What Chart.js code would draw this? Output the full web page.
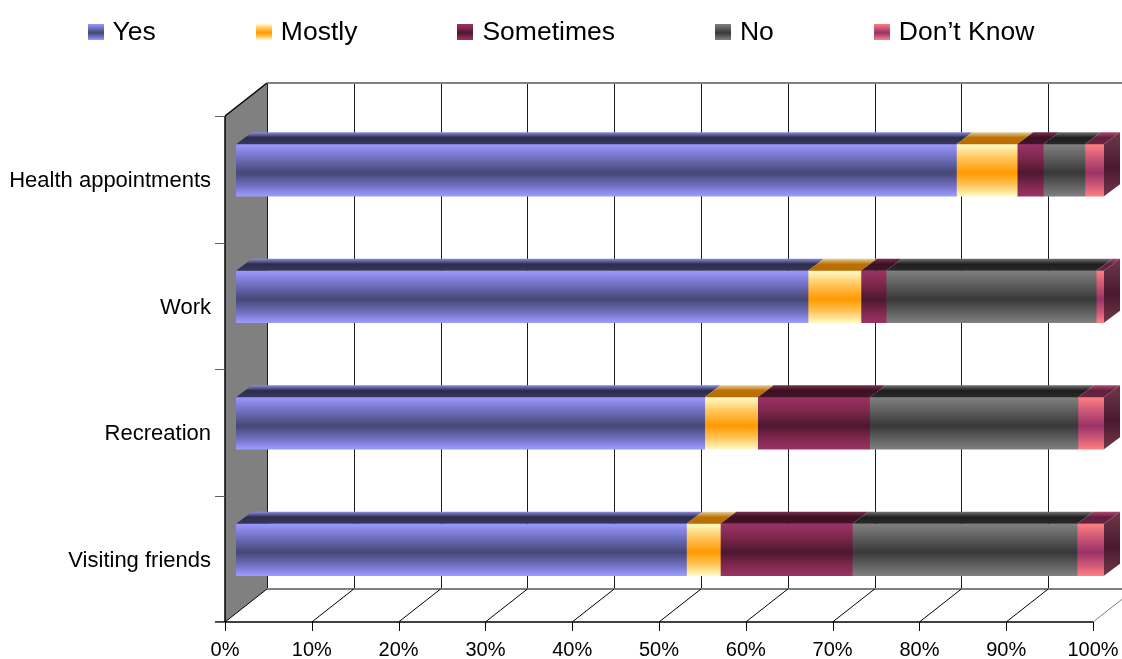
<!DOCTYPE html>
<html>
<head>
<meta charset="utf-8">
<script src="https://cdn.jsdelivr.net/npm/chart.js@4.4.1/dist/chart.umd.min.js"></script>
<style>
  body { margin: 0; background: #fff; }
  #wrap { position: relative; width: 1122px; height: 659px; }
  #legend {
    position: absolute; top: 14px; left: 0; width: 1122px; height: 34px;
    display: flex; justify-content: center; align-items: center; gap: 100px;
    font: 26.5px 'Liberation Sans', Arial, sans-serif; color: #000;
  }
  #legend .item { display: flex; align-items: center; white-space: nowrap; }
  #legend .box { width: 16px; height: 16px; margin-right: 9px; margin-top: 2px; }
  canvas { position: absolute; left: 0; top: 0; }
</style>
</head>
<body>
<div id="wrap">
  <canvas id="myChart" width="1122" height="659"></canvas>
  <div id="legend"></div>
</div>
<script>
const categories = ['Health appointments', 'Work', 'Recreation', 'Visiting friends'];
const seriesNames = ['Yes', 'Mostly', 'Sometimes', 'No', 'Don\u2019t Know'];
const yes       = [83.0, 65.9, 54.0, 51.9];
const mostly    = [7.0, 6.1, 6.1, 3.9];
const sometimes = [3.0, 2.9, 12.9, 15.2];
const no        = [4.8, 24.2, 24.0, 25.9];
const dontKnow  = [2.2, 0.9, 3.0, 3.1];
const percentTicks = [0, 10, 20, 30, 40, 50, 60, 70, 80, 90, 100];

// colours for front / top / side faces of the fake 3d bars
const faces = [
  { front: ['#9a9aff', '#7272c4', '#464676', '#7070c0', '#9c9cff'], top: ['#8c8cdc', '#2c2c4a', '#383860'] },
  { front: ['#fffcc8', '#ffc860', '#ff9900', '#ffc860', '#fffcc8'], top: ['#dcd0a0', '#c07000', '#b86c00'] },
  { front: ['#993366', '#80284e', '#4c1830', '#80284e', '#993366'], top: ['#7a3050', '#3a1020', '#451428'] },
  { front: ['#808080', '#606060', '#383838', '#606060', '#808080'], top: ['#727272', '#1e1e1e', '#2a2a2a'] },
  { front: ['#ff8080', '#d05878', '#993366', '#d05878', '#ff8080'], top: ['#b04870', '#602040', '#6a2444'], side: ['#703848', '#4c1830', '#703848'] }
];
const frontStops = [0, 0.25, 0.55, 0.8, 1];

// 3d projection offsets (px): back wall depth, front plane vs bar plane, bar depth
const depth = { wall: [42, -33], front: [-11, 9], bar: [16, -12] };

function frontGradient(c, cols) {
  const chart = c.chart;
  if (c.type !== 'data' || !chart.chartArea) return cols[2];
  const mid = chart.scales.y.getPixelForValue(c.dataIndex);
  const g = chart.ctx.createLinearGradient(0, mid - 26, 0, mid + 26);
  cols.forEach((col, k) => g.addColorStop(frontStops[k], col));
  return g;
}

const frame3d = {
  id: 'frame3d',
  beforeDatasetsDraw(chart) {
    const { ctx, chartArea: a, scales: { x, y } } = chart;
    const [wx, wy] = depth.wall, [fx, fy] = depth.front;
    const fl = x.getPixelForValue(0) + fx, fr = x.getPixelForValue(100) + fx;
    const ft = a.top + fy, fb = a.bottom + fy;
    const bl = fl + wx, br = fr + wx, bt = ft + wy, bb = fb + wy;
    const line = (x1, y1, x2, y2) => { ctx.beginPath(); ctx.moveTo(x1, y1); ctx.lineTo(x2, y2); ctx.stroke(); };
    ctx.save();
    // back wall grid
    ctx.lineWidth = 1;
    ctx.strokeStyle = '#1a1a1a';
    percentTicks.forEach(v => {
      const px = Math.round(x.getPixelForValue(v) + fx + wx) + 0.5;
      line(px, bt, px, bb);
    });
    ctx.strokeStyle = '#808080';
    ctx.lineWidth = 2;
    line(bl, bt, br, bt);
    line(bl, bb, br, bb);
    // left wall
    ctx.fillStyle = '#808080';
    ctx.beginPath();
    ctx.moveTo(fl, ft); ctx.lineTo(bl, bt); ctx.lineTo(bl, bb); ctx.lineTo(fl, fb);
    ctx.closePath();
    ctx.fill();
    // floor
    ctx.lineWidth = 1;
    percentTicks.forEach((v, k) => {
      const px = x.getPixelForValue(v) + fx;
      ctx.strokeStyle = k === percentTicks.length - 1 ? '#808080' : '#000';
      line(px, fb, px + wx, bb);
      ctx.strokeStyle = '#000';
      line(Math.round(px) + 0.5, fb, Math.round(px) + 0.5, fb + 9);
    });
    ctx.strokeStyle = '#000';
    ctx.lineWidth = 1.5;
    line(fl - 10, fb, fr, fb);
    line(fl, ft, fl, fb);
    line(fl, ft, bl, bt);
    // left tick marks between categories
    ctx.strokeStyle = '#606060';
    ctx.lineWidth = 1;
    for (let k = 0; k <= categories.length; k++) {
      const py = Math.round(y.getPixelForValue(k - 0.5) + fy) + 0.5;
      line(fl - 10, py, fl, py);
    }
    ctx.restore();
  },
  afterDatasetsDraw(chart) {
    const { ctx } = chart;
    const [dx, dy] = depth.bar;
    const last = chart.data.datasets.length - 1;
    ctx.save();
    chart.data.datasets.forEach((ds, i) => {
      const f = faces[i];
      chart.getDatasetMeta(i).data.forEach(el => {
        const l = Math.min(el.base, el.x), r = Math.max(el.base, el.x);
        const t = el.y - el.height / 2, b = el.y + el.height / 2;
        const g = ctx.createLinearGradient(0, t + dy, 0, t);
        g.addColorStop(0, f.top[0]); g.addColorStop(0.45, f.top[1]); g.addColorStop(1, f.top[2]);
        ctx.fillStyle = g;
        ctx.beginPath();
        ctx.moveTo(l, t); ctx.lineTo(r, t); ctx.lineTo(r + dx, t + dy); ctx.lineTo(l + dx, t + dy);
        ctx.closePath();
        ctx.fill();
        if (i === last) {
          const s = ctx.createLinearGradient(0, t + dy, 0, b);
          s.addColorStop(0, f.side[0]); s.addColorStop(0.55, f.side[1]); s.addColorStop(1, f.side[2]);
          ctx.fillStyle = s;
          ctx.beginPath();
          ctx.moveTo(r, t); ctx.lineTo(r + dx, t + dy); ctx.lineTo(r + dx, b + dy); ctx.lineTo(r, b);
          ctx.closePath();
          ctx.fill();
        }
      });
    });
    ctx.restore();
  }
};

// html legend
const legendEl = document.getElementById('legend');
seriesNames.forEach((name, i) => {
  const item = document.createElement('div');
  item.className = 'item';
  const box = document.createElement('span');
  box.className = 'box';
  box.style.background = 'linear-gradient(to bottom, ' +
    faces[i].front.map((c, k) => c + ' ' + (frontStops[k] * 100) + '%').join(', ') + ')';
  item.appendChild(box);
  item.appendChild(document.createTextNode(name));
  legendEl.appendChild(item);
});

Chart.defaults.font.family = "'Liberation Sans', Arial, sans-serif";
Chart.defaults.color = '#000';

const values = [yes, mostly, sometimes, no, dontKnow];
const ctx = document.getElementById('myChart');

new Chart(ctx, {
  type: 'bar',
  data: {
    labels: categories,
    datasets: seriesNames.map((name, i) => ({
      label: name,
      data: values[i],
      backgroundColor: c => frontGradient(c, faces[i].front),
      borderWidth: 0,
      barThickness: 52
    }))
  },
  options: {
    indexAxis: 'y',
    responsive: false,
    animation: false,
    layout: { padding: { top: 107, right: 18, bottom: 0, left: 0 } },
    scales: {
      x: {
        stacked: true,
        min: 0,
        max: 100,
        afterBuildTicks: s => { s.ticks = percentTicks.map(v => ({ value: v })); },
        afterFit: s => { s.height = 46; s.paddingLeft = 0; s.paddingRight = 0; },
        grid: { display: false, drawTicks: false },
        border: { display: false },
        ticks: {
          autoSkip: false,
          maxRotation: 0,
          padding: 25,
          labelOffset: -11,
          font: { size: 20 },
          callback: v => v + '%'
        }
      },
      y: {
        stacked: true,
        afterFit: s => { s.width = 236; s.paddingTop = 0; s.paddingBottom = 0; },
        grid: { display: false, drawTicks: false },
        border: { display: false },
        ticks: { padding: 25, labelOffset: 11, font: { size: 22 } }
      }
    },
    plugins: {
      legend: { display: false },
      tooltip: { enabled: false }
    }
  },
  plugins: [frame3d]
});
</script>
</body>
</html>
